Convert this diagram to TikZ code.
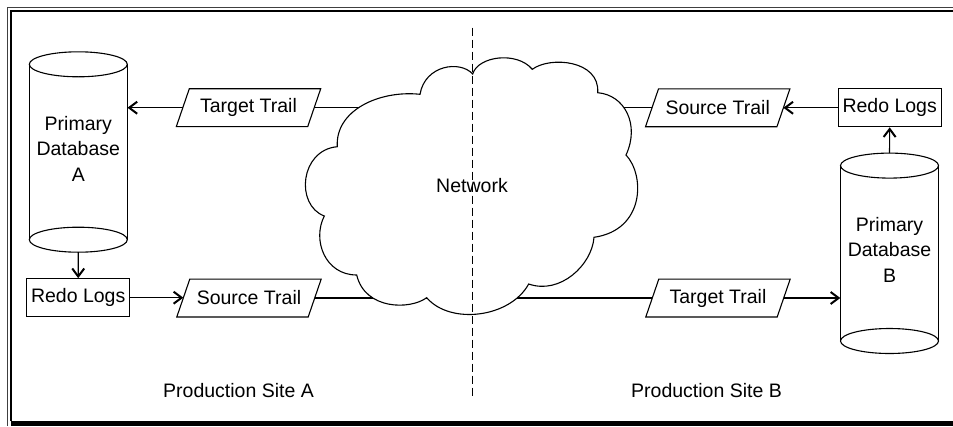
\documentclass[tikz,border=0pt]{standalone}
\usepackage{fontspec}
\setmainfont{Liberation Sans}
\usetikzlibrary{arrows.meta}
\begin{document}
\begin{tikzpicture}[x=1pt,y=-1pt,
  every node/.style={font=\fontsize{19.5}{25.5}\selectfont, inner sep=0pt},
  conn/.style={line width=1.1pt},
  arr/.style={conn, -{Straight Barb[length=8pt,width=12pt,line width=2pt]}},
  boxnode/.style={draw, line width=1.1pt, minimum width=103pt, minimum height=38pt},
  trail/.style={minimum width=131pt, minimum height=37.5pt},
  dbnode/.style={minimum width=98pt, minimum height=200pt, align=center},
  shapeline/.style={line width=1.1pt}
]
\useasboundingbox (0,0) rectangle (953,426);
% frame
\draw[line width=0.8pt, black!75] (7,426) -- (7,7) -- (953,7);
\draw[line width=1.3pt] (11,421) -- (11,11) -- (953,11);
\fill (11,421) rectangle (953,426);

% nodes
\node[dbnode] (dbA) at (78.3,148.5) {Primary\\Database\\A};
\node[dbnode] (dbB) at (889.5,249.8) {Primary\\Database\\B};
\node[boxnode] (rlA) at (78.2,297.7) {Redo Logs};
\node[boxnode] (rlB) at (889.7,107.8) {Redo Logs};
\node[trail] (tta) at (248.5,107.7) {Target Trail};
\node[trail] (sta) at (249,298) {Source Trail};
\node[trail] (stb) at (717.7,107.8) {Source Trail};
\node[trail] (ttb) at (718,298) {Target Trail};
\coordinate (net) at (472,186);

% parallelograms
\foreach \n in {tta,sta,stb,ttb}{
  \draw[shapeline] ([xshift=6.5pt]\n.north west) -- ([xshift=6.5pt]\n.north east)
    -- ([xshift=-6.5pt]\n.south east) -- ([xshift=-6.5pt]\n.south west) -- cycle;
}
% cylinders
\foreach \n in {dbA,dbB}{
  \draw[shapeline] ([yshift=-16pt]\n.north west) -- ([yshift=9pt]\n.south west)
    ([yshift=-16pt]\n.north east) -- ([yshift=9pt]\n.south east);
  \draw[shapeline] ([yshift=-16pt]\n.north) ellipse [x radius=49pt, y radius=12.5pt];
  \draw[shapeline] ([yshift=9pt]\n.south) ellipse [x radius=49pt, y radius=12.5pt];
}

% connectors
\draw[arr] (tta.west) -- (tta.west -| dbA.east);
\draw[arr] ([yshift=-3.5pt]dbA.south) -- (rlA.north);
\draw[arr] (rlA.east) -- (rlA.east -| sta.west);
\draw[arr] (rlB.west) -- (rlB.west -| stb.east);
\draw[arr] ([yshift=-3.5pt]dbB.north) -- (rlB.south);
\draw[arr] (ttb.east) -- (ttb.east -| dbB.west);
\draw[conn] (tta.east) -- (tta.east -| net);
\draw[conn] (sta.east) -- (sta.east -| net);
\draw[conn] (stb.west) -- (stb.west -| net);
\draw[conn] (ttb.west) -- (ttb.west -| net);

% cloud
\path[draw, fill=white, shapeline] (472.7,74)
 .. controls (478,56) and (517,51) .. (532.3,69.3)
 .. controls (550,56) and (600,60) .. (597.7,92.7)
 .. controls (625,95) and (640,125) .. (626,155)
 .. controls (645,175) and (645,230) .. (594,237.3)
 .. controls (592,265) and (560,295) .. (528.7,284)
 .. controls (510,318) and (450,325) .. (426.7,297.7)
 .. controls (410,310) and (365,310) .. (356.7,275)
 .. controls (325,275) and (312,240) .. (324.3,216)
 .. controls (295,205) and (300,150) .. (337.3,146.7)
 .. controls (335,110) and (380,90) .. (420,94.3)
 .. controls (425,65) and (460,60) .. (472.7,74) -- cycle;

% divider
\coordinate (divtop) at (472.7,27.7);
\coordinate (divbot) at (472.7,396.7);
\draw[line width=1pt, dash pattern=on 8pt off 4pt] (divtop) -- (divbot);

\node (netlabel) at (net) {Network};
\node (siteA) at (238.5,390.7) {Production Site A};
\node (siteB) at (706.5,390.7) {Production Site B};
\end{tikzpicture}
\end{document}
